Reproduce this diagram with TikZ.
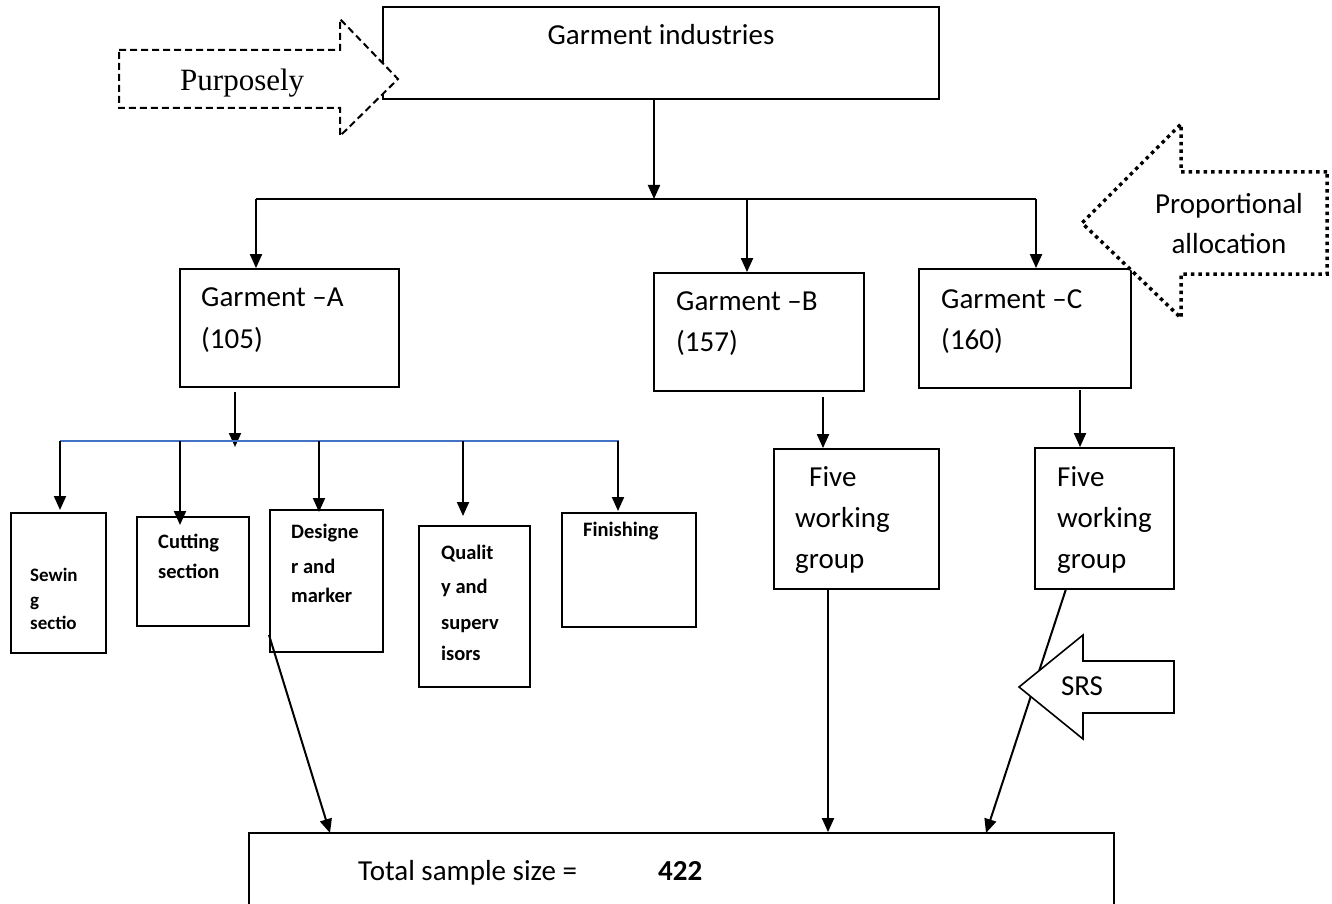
\documentclass[tikz,border=0pt]{standalone}
\usepackage{fontspec}
\setmainfont{Carlito}
\newfontfamily\timesfont{Liberation Serif}
\usetikzlibrary{arrows.meta}
\definecolor{wordblue}{HTML}{4472C4}
\begin{document}
\begin{tikzpicture}[x=1pt,y=-1pt,
  box/.style={draw, line width=1.8pt, inner sep=0pt, fill=white},
  arr/.style={line width=2pt, -{Triangle[length=14pt,width=12pt]}},
  conn/.style={line width=2pt},
  lbl/.style={anchor=west, inner sep=0pt, text height=21pt, text depth=5pt, font=\fontsize{29}{35}\selectfont},
  blbl/.style={lbl, font=\fontsize{29}{35}\selectfont\bfseries},
  slbl/.style={anchor=west, inner sep=0pt, text height=15.5pt, text depth=3.5pt, font=\fontsize{20.5}{25}\selectfont\bfseries},
  bigarrow/.style={fill=white, line join=miter},
]
\clip (0,0) rectangle (1332,904);
\fill[white] (0,0) rectangle (1332,904);

% ---- boxes ----
\node[box, minimum width=556pt, minimum height=92pt]  (gi)   at (661,53) {};
\node[box, minimum width=219pt, minimum height=118pt] (ga)   at (289.5,328) {};
\node[box, minimum width=210pt, minimum height=118pt] (gb)   at (759,332) {};
\node[box, minimum width=212pt, minimum height=119pt] (gc)   at (1025,328.5) {};
\node[box, minimum width=165pt, minimum height=140pt] (fb)   at (856.5,519) {};
\node[box, minimum width=139pt, minimum height=141pt] (fc)   at (1104.5,518.5) {};
\node[box, minimum width=95pt,  minimum height=140pt] (sew)  at (58.5,583) {};
\node[box, minimum width=112pt, minimum height=109pt] (cut)  at (193,571.5) {};
\node[box, minimum width=113pt, minimum height=142pt] (des)  at (326.5,581) {};
\node[box, minimum width=111pt, minimum height=161pt] (qual) at (474.5,606.5) {};
\node[box, minimum width=134pt, minimum height=114pt] (fin)  at (629,570) {};
\node[box, minimum width=865pt, minimum height=110pt] (tot)  at (681.5,888) {};

% ---- texts ----
\node[lbl, anchor=center] (tgi) at (661,37) {Garment industries};
\node[lbl] (ta1) at (201,298) {Garment \textendash A};
\node[lbl] (ta2) at (201,340) {(105)};
\node[lbl] (tb1) at (676,302) {Garment \textendash B};
\node[lbl] (tb2) at (676,343) {(157)};
\node[lbl] (tc1) at (941,300) {Garment \textendash C};
\node[lbl] (tc2) at (941,341) {(160)};
\node[lbl] (fb1) at (809,478) {Five};
\node[lbl] (fb2) at (795,519) {working};
\node[lbl] (fb3) at (795,560) {group};
\node[lbl] (fc1) at (1057,478) {Five};
\node[lbl] (fc2) at (1057,519) {working};
\node[lbl] (fc3) at (1057,560) {group};
\node[lbl] (ttot) at (358,872) {Total sample size =};
\node[blbl] (t422) at (658,872) {422};

\node[slbl, font=\fontsize{19}{23}\selectfont\bfseries] (s1) at (30,575) {Sewin};
\node[slbl, font=\fontsize{19}{23}\selectfont\bfseries] (s2) at (30,600) {g};
\node[slbl, font=\fontsize{19}{23}\selectfont\bfseries] (s3) at (30,623) {sectio};
\node[slbl] (c1) at (158,542) {Cutting};
\node[slbl] (c2) at (158,572) {section};
\node[slbl] (d1) at (291,532) {Designe};
\node[slbl] (d2) at (291,567) {r and};
\node[slbl] (d3) at (291,596) {marker};
\node[slbl] (q1) at (441,553) {Qualit};
\node[slbl] (q2) at (441,587) {y and};
\node[slbl] (q3) at (441,623) {superv};
\node[slbl] (q4) at (441,654) {isors};
\node[slbl] (f1) at (583,530) {Finishing};

% ---- connectors ----
\coordinate (j0) at (654,199);
\coordinate (jA) at (256,199);
\coordinate (jB) at (747,199);
\coordinate (jC) at (1036,199);
\draw[arr] (gi.south -| j0) -- (j0);
\draw[conn] (jA) -- (jC);
\draw[arr] (jA) -- (ga.north -| jA);
\draw[arr] (jB) -- (gb.north -| jB);
\draw[arr] (jC) -- (gc.north -| jC);

\coordinate (aTop) at (235,392);
\coordinate (aEnd) at (235,447);
\draw[arr] (aTop) -- (aEnd);
\coordinate (bl) at (60,441);
\coordinate (br) at (619,441);
\draw[conn, draw=wordblue, line width=1.5pt] (bl) -- (br);
\coordinate (d1s) at (60,441);
\coordinate (d2s) at (180,441);
\coordinate (d3s) at (319,441);
\coordinate (d4s) at (463,441);
\coordinate (d5s) at (618,441);
\draw[arr] (d1s) -- (60,510);
\draw[arr] (d2s) -- (180,525);
\draw[arr] (d3s) -- (319,512);
\draw[arr] (d4s) -- (463,516);
\draw[arr] (d5s) -- (618,511);

\coordinate (bS) at (823,397);
\coordinate (cS) at (1080,390);
\draw[arr] (bS) -- (fb.north -| bS);
\draw[arr] (cS) -- (fc.north -| cS);

\coordinate (fbx) at (828,589);
\draw[arr] (fbx) -- (tot.north -| fbx);
\coordinate (fcx) at (1066,589);
\coordinate (totc) at (986,833);
\draw[arr] (fcx) -- (totc);
\coordinate (desx) at (269,635);
\coordinate (totd) at (330,833);
\draw[arr] (desx) -- (totd);

% ---- block arrows ----
\draw[bigarrow, line width=2pt, dash pattern=on 7pt off 4pt]
  (119,50) -- (340,50) -- (340,19) -- (398,79) -- (340,136) -- (340,108) -- (119,108) -- cycle;
\node[inner sep=0pt, anchor=base west, font=\timesfont\fontsize{31}{36}\selectfont] (tp) at (180,91) {Purposely};

\draw[bigarrow, line width=3.5pt, dash pattern=on 3.5pt off 4pt]
  (1327,172) -- (1181,172) -- (1181,124) -- (1082,223) -- (1181,318) -- (1181,274) -- (1327,274) -- cycle;
\node[lbl, anchor=center] (tpr1) at (1229,205) {Proportional};
\node[lbl, anchor=center] (tpr2) at (1229,245) {allocation};

\draw[bigarrow, line width=1.6pt]
  (1174,661) -- (1083,661) -- (1083,635) -- (1019,687) -- (1083,739) -- (1083,713) -- (1174,713) -- cycle;
\node[lbl, anchor=center] (tsrs) at (1082,687) {SRS};
\end{tikzpicture}
\end{document}
